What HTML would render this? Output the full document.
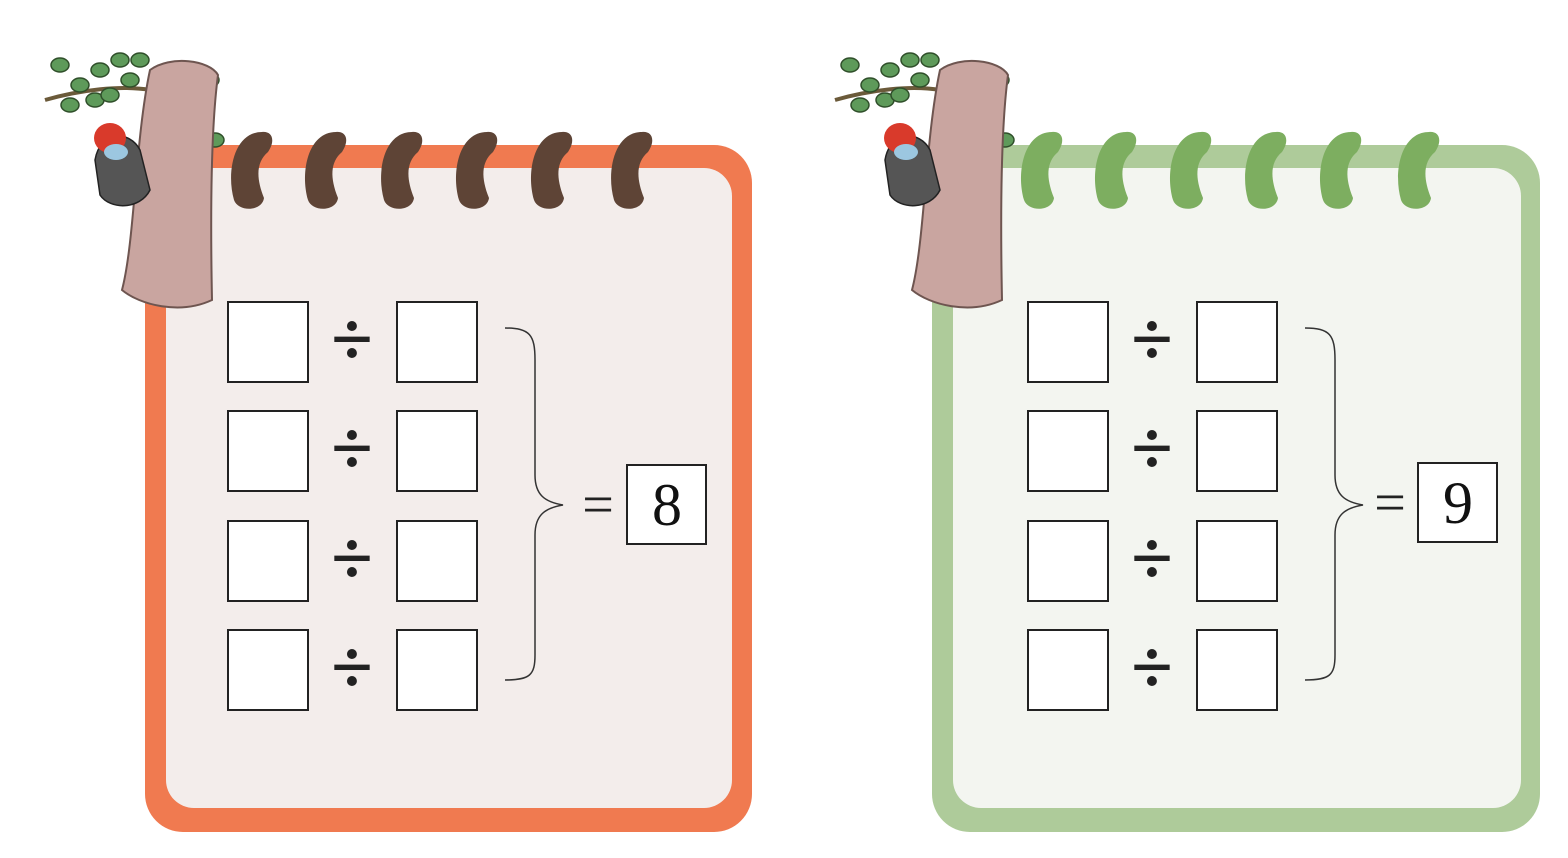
<!DOCTYPE html>
<html><head><meta charset="utf-8"><style>
html,body{margin:0;padding:0;background:#fff;width:1568px;height:858px;overflow:hidden}
svg{display:block}
text{font-family:"Liberation Serif",serif}
</style></head><body>
<svg width="1568" height="858" viewBox="0 0 1568 858" xmlns="http://www.w3.org/2000/svg">
<g id="left">
 <rect x="145" y="145" width="607" height="687" rx="38" fill="#F07A50"/>
 <rect x="166" y="168" width="566" height="640" rx="28" fill="#F3EDEB"/>
</g>
<g id="right">
 <rect x="932" y="145" width="608" height="687" rx="38" fill="#AECB9A"/>
 <rect x="953" y="168" width="568" height="640" rx="28" fill="#F3F5F0"/>
</g>
<g id="rings"></g>
<g id="trees"></g>
<g id="content"></g>
</svg>
<script>
const NS="http://www.w3.org/2000/svg";
function mk(tag,attrs,parent){const e=document.createElementNS(NS,tag);for(const k in attrs)e.setAttribute(k,attrs[k]);parent.appendChild(e);return e;}
const rings=document.getElementById('rings'),trees=document.getElementById('trees'),content=document.getElementById('content');
const boards=[{x0:0,ringX:[248,322,398,473,548,628],ringC:'#5E4436',ans:'8',braceX:505,eqX:598,ansX:627,ansY:465},
{x0:800,ringX:[1038,1112,1187,1262,1337,1415],ringC:'#7DAE60',ans:'9',braceX:1305,eqX:1390,ansX:1418,ansY:463}];
const rowY=[302,411,521,630];
boards.forEach(b=>{
 b.ringX.forEach(rx=>{
  const r=mk('path',{d:`M${rx+14},132 C${rx-14},132 ${rx-22},172 ${rx-14},200 C${rx-10},212 ${rx+14},212 ${rx+16},198 C${rx+8},178 ${rx+8},162 ${rx+20},152 C${rx+28},140 ${rx+24},131 ${rx+14},132Z`,fill:b.ringC},rings);
  
  
 });
 const o=b.x0-(b.x0?10:0);
 const t=mk('g',{},trees);
 
 
 mk('path',{d:`M${o+45},100 C${o+80},90 ${o+120},85 ${o+150},90`,stroke:'#6b5a3a','stroke-width':4,fill:'none'},t);
 [[60,65],[80,85],[100,70],[120,60],[130,80],[70,105],[95,100],[110,95],[140,60],[215,140],[210,80]].forEach(p=>mk('ellipse',{cx:o+p[0],cy:p[1],rx:9,ry:7,fill:'#5E9A5A',stroke:'#2f4f2a','stroke-width':1.5},t));
 mk('path',{d:`M${o+150},70 C${o+170},55 ${o+210},60 ${o+218},75 C${o+212},120 ${o+210},200 ${o+212},300 C${o+180},315 ${o+140},305 ${o+122},290 C${o+135},240 ${o+135},140 ${o+150},70Z`,fill:'#C9A5A0',stroke:'#6e5550','stroke-width':2},t);
 mk('path',{d:`M${o+95},160 C${o+100},130 ${o+130},130 ${o+140},150 L${o+150},190 C${o+140},210 ${o+110},210 ${o+100},195Z`,fill:'#555',stroke:'#222','stroke-width':1.5},t);
 mk('ellipse',{cx:o+110,cy:138,rx:16,ry:15,fill:'#D93A2B'},t);
 mk('ellipse',{cx:o+116,cy:152,rx:12,ry:8,fill:'#9cc7e0'},t);
});
const g=mk('g',{},content);


boards.forEach((b,bi)=>{
 const lx=228+b.x0, rx=397+b.x0, dx=352+b.x0;
 rowY.forEach(y=>{
  const a=mk('rect',{x:lx,y:y,width:80,height:80,fill:'#fff',stroke:'#222','stroke-width':2},g);
  
  
  const d=mk('rect',{x:rx,y:y,width:80,height:80,fill:'#fff',stroke:'#222','stroke-width':2},g);
  
  
  const s=mk('text',{x:dx,y:y+63,'font-size':76,'font-weight':'bold','text-anchor':'middle',fill:'#222'},g);
  s.textContent='÷';
  
  
 });
 const bx=b.braceX;
 const br=mk('path',{d:`M${bx},328 C${bx+25},328 ${bx+30},335 ${bx+30},360 L${bx+30},475 C${bx+30},495 ${bx+40},502 ${bx+58},505 C${bx+40},508 ${bx+30},515 ${bx+30},535 L${bx+30},655 C${bx+30},675 ${bx+25},680 ${bx},680`,fill:'none',stroke:'#333','stroke-width':1.5},g);
 
 
 const eq=mk('text',{x:b.eqX,y:b.ansY+58,'font-size':56,'text-anchor':'middle',fill:'#222'},g);
 eq.textContent='=';
 
 
 const ab=mk('rect',{x:b.ansX,y:b.ansY,width:79,height:79,fill:'#fff',stroke:'#222','stroke-width':2},g);
 
 
 const at=mk('text',{x:b.ansX+40,y:b.ansY+60,'font-size':60,'text-anchor':'middle',fill:'#111'},g);
 at.textContent=b.ans;
 
 
});
</script>
</body></html>
